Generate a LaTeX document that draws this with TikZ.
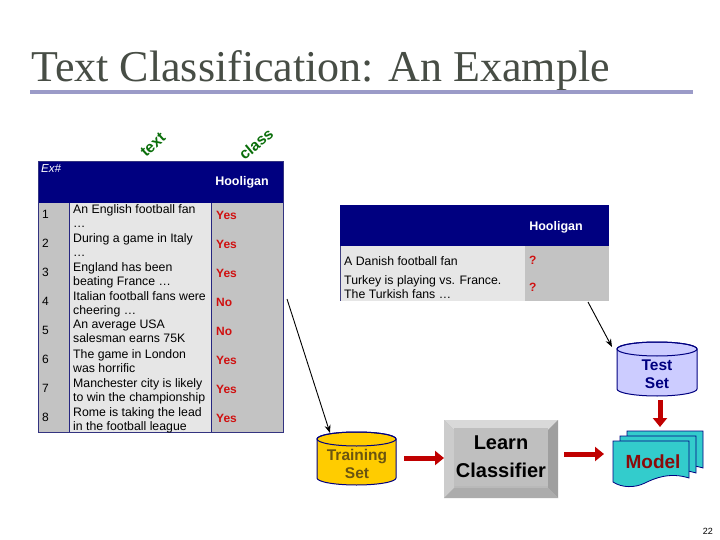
\documentclass[tikz,border=0pt]{standalone}
\usepackage{fontspec}
\setmainfont{Liberation Serif}
\setsansfont{Liberation Sans}
\usetikzlibrary{shapes.geometric,arrows.meta}
\definecolor{navy}{HTML}{000080}
\definecolor{titlegray}{HTML}{474D45}
\definecolor{rulepurple}{HTML}{9B9BC8}
\definecolor{lightcell}{HTML}{E6E6E6}
\definecolor{darkcell}{HTML}{C3C3C3}
\definecolor{hred}{HTML}{D01010}
\definecolor{labgreen}{HTML}{0A6E0A}
\definecolor{gold}{HTML}{FFCC00}
\definecolor{goldtext}{HTML}{6B5510}
\definecolor{lav}{HTML}{CCCCFF}
\definecolor{teal}{HTML}{33CCCC}
\definecolor{modelred}{HTML}{8B0A0A}
\definecolor{arrred}{HTML}{C00000}
\tikzset{
  body/.style={font=\sffamily\fontsize{12.3}{14}\selectfont, align=left, inner sep=0pt},
  num/.style={font=\sffamily\fontsize{12}{14}\selectfont, anchor=west, inner sep=0pt},
  yes/.style={font=\sffamily\bfseries\fontsize{12}{14}\selectfont, text=hred, anchor=west, inner sep=0pt},
  hdr/.style={font=\sffamily\bfseries\fontsize{12.5}{14}\selectfont, text=white, inner sep=0pt},
  rot/.style={font=\sffamily\bfseries\fontsize{15.5}{17}\selectfont, text=labgreen, inner sep=0pt},
  thinarr/.style={-{Stealth[length=8pt,width=6pt]}, line width=0.9pt},
  redarr/.style={-{Triangle[length=9pt,width=14pt]}, line width=5pt, arrred},
  dbtext/.style={inner sep=0pt, align=center, font=\sffamily\bfseries\fontsize{15.5}{18}\selectfont},
  dbline/.style={draw=navy, line width=1pt},
  sheet/.style={draw=navy, line width=0.8pt, fill=teal}
}
\begin{document}
\begin{tikzpicture}[x=1pt,y=-1pt]
\useasboundingbox (0,0) rectangle (720,540);
\fill[white] (0,0) rectangle (720,540);
% Title
\node[anchor=base west, inner sep=0pt, text=titlegray, font=\fontsize{44}{48}\selectfont] (title) at (31,82) {Text Classification: An Example};
\draw[rulepurple, line width=3.5pt] (30,92) -- (693,92);
% rotated labels
\node[rot, rotate=42] (lbltext) at (153,145) {text};
\node[rot, rotate=40] (lblclass) at (256,144) {class};
% ---- Left table ----
\fill[navy] (38,161) rectangle (283,203);
\fill[darkcell] (38,203) rectangle (69,432);
\fill[lightcell] (69,203) rectangle (211,432);
\fill[darkcell] (211,203) rectangle (283,432);
\draw[navy!70!gray, line width=0.8pt] (69,203) -- (69,432) (211,203) -- (211,432);
\draw[navy!60!gray, line width=0.6pt] (38,161) rectangle (283,432);
\node[anchor=north west, inner sep=0pt, text=white, font=\sffamily\itshape\fontsize{11.5}{13}\selectfont] (exh) at (41,164) {Ex\#};
\node[hdr] (lhool) at (242,182) {Hooligan};
\foreach \i/\t/\c in {1/{An English football fan\\\ldots}/Yes,
                      2/{During a game in Italy\\\ldots}/Yes,
                      3/{England has been\\beating France \ldots}/Yes,
                      4/{Italian football fans were\\cheering \ldots}/No,
                      5/{An average USA\\salesman earns 75K}/No,
                      6/{The game in London\\was horrific}/Yes,
                      7/{Manchester city is likely\\to win the championship}/Yes,
                      8/{Rome is taking the lead\\in the football league}/Yes}{
  \node[num] (n\i) at (42,{214+29*(\i-1)}) {\i};
  \node[body, anchor=north west] (t\i) at (73,{204+29*(\i-1)}) {\t};
  \node[yes] (c\i) at (216,{215+29*(\i-1)}) {\c};
}
% ---- Right table ----
\fill[navy] (340,205) rectangle (609,246);
\fill[lightcell] (340,246) rectangle (525,301);
\fill[darkcell] (525,246) rectangle (609,301);
\draw[navy!50!gray, line width=0.5pt] (340,246) -- (340,301);
\node[hdr] (rhool) at (556,227) {Hooligan};
\node[body, anchor=west] (r1) at (344,261) {A Danish football fan};
\node[body, anchor=west] (r2) at (344,287) {Turkey is playing vs. France.\\The Turkish fans \ldots};
\node[yes] (q1) at (529,260) {?};
\node[yes] (q2) at (529,287) {?};
% ---- Flow ----
% Training set cylinder
\path[dbline, fill=gold] (317,439) -- (317,478) arc[start angle=180, end angle=0, x radius=39.5, y radius=7] -- (396,439) arc[start angle=0, end angle=-180, x radius=39.5, y radius=7] -- cycle;
\draw[dbline] (356.5,439) ellipse[x radius=39.5, y radius=7];
\node[dbtext, text=goldtext] (train) at (357,464) {Training\\Set};
% Test set cylinder
\path[dbline, fill=lav] (617,349) -- (617,389) arc[start angle=180, end angle=0, x radius=40, y radius=7] -- (697,349) arc[start angle=0, end angle=-180, x radius=40, y radius=7] -- cycle;
\draw[dbline] (657,349) ellipse[x radius=40, y radius=7];
\node[dbtext, text=navy] (test) at (657,374) {Test\\Set};
% Learn Classifier bevel box
\fill[gray!55] (444,420) rectangle (558,498);
\fill[gray!30] (444,420) -- (558,420) -- (548,430) -- (454,430) -- cycle;
\fill[gray!40] (444,420) -- (454,430) -- (454,488) -- (444,498) -- cycle;
\fill[gray!75] (558,420) -- (558,498) -- (548,488) -- (548,430) -- cycle;
\fill[gray!65] (444,498) -- (558,498) -- (548,488) -- (454,488) -- cycle;
\node[fill=gray!50, minimum width=94pt, minimum height=58pt, inner sep=0pt, align=center,
      font=\sffamily\bfseries\fontsize{20}{28}\selectfont] (learn) at (501,457) {Learn\\Classifier};
% Model stacked documents
\foreach \dx/\dy in {14/-10,7/-5}{
  \draw[sheet] ({613+\dx},{441+\dy}) -- ({689+\dx},{441+\dy}) -- ({689+\dx},{478+\dy})
     .. controls ({670+\dx},{472+\dy}) and ({655+\dx},{478+\dy}) .. ({645+\dx},{483+\dy})
     .. controls ({635+\dx},{488+\dy}) and ({622+\dx},{488+\dy}) .. ({613+\dx},{482+\dy}) -- cycle;
}
\draw[sheet] (613,441) -- (689,441) -- (689,478)
   .. controls (670,472) and (655,478) .. (645,483)
   .. controls (635,488) and (622,488) .. (613,482) -- cycle;
\node[inner sep=0pt, text=modelred, font=\sffamily\bfseries\fontsize{19}{22}\selectfont] (model) at (653,462) {Model};
% connectors
\coordinate (lsrc) at (287,299);
\coordinate (rsrc) at (588,302);
\coordinate (ltgt) at (330,433);
\coordinate (rtgt) at (612,347);
\draw[thinarr] (lsrc) -- (ltgt);
\draw[thinarr] (rsrc) -- (rtgt);
\coordinate (a1) at (404,458);
\coordinate (b1) at (444,458);
\coordinate (a2) at (564,454);
\coordinate (b2) at (604,454);
\coordinate (a3) at (660,400);
\coordinate (b3) at (660,427);
\draw[redarr] (a1) -- (b1);
\draw[redarr] (a2) -- (b2);
\draw[redarr] (a3) -- (b3);
% page number
\node[anchor=east, inner sep=0pt, font=\sffamily\fontsize{9}{10}\selectfont] (pg) at (713,531) {22};
\end{tikzpicture}
\end{document}
